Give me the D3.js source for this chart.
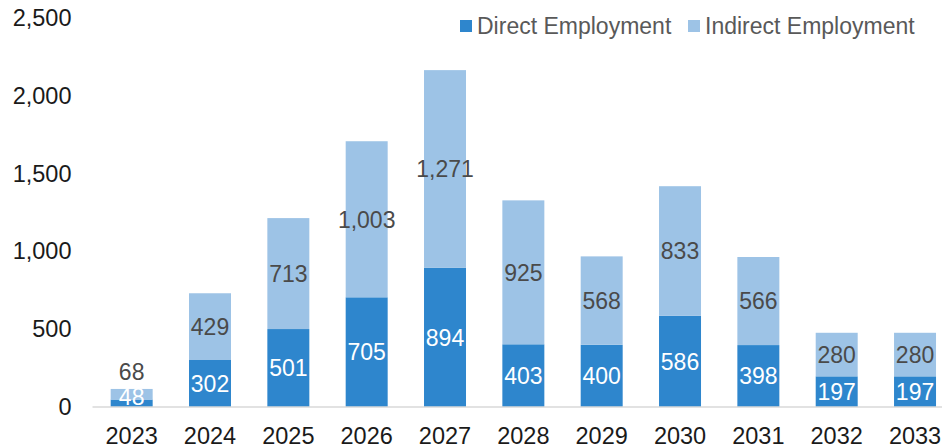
<!DOCTYPE html>
<html>
<head>
<meta charset="utf-8">
<script src="https://cdn.jsdelivr.net/npm/d3@7"></script>
<style>
  html, body { margin: 0; padding: 0; background: #fff; }
  svg { display: block; font-family: "Liberation Sans", Arial, sans-serif; }
</style>
</head>
<body>
<svg id="chart" width="942" height="446"></svg>
<script>
// Employment by year, split into direct and indirect jobs
const years = ["2023", "2024", "2025", "2026", "2027", "2028", "2029", "2030", "2031", "2032", "2033"];
const directJobs = [48, 302, 501, 705, 894, 403, 400, 586, 398, 197, 197];
const indirectJobs = [68, 429, 713, 1003, 1271, 925, 568, 833, 566, 280, 280];
const yTicks = [0, 500, 1000, 1500, 2000, 2500];
const seriesNames = ["Direct Employment", "Indirect Employment"];
const seriesColors = ["#2e86cd", "#9dc3e6"];

const W = 942, H = 446;
const svg = d3.select("#chart");

const x = d3.scaleBand().domain(years).range([92.5, 954.2]).paddingInner(0.464).paddingOuter(0.232);
const y = d3.scaleLinear().domain([0, 2500]).range([407, 18]);

const rows = years.map((yr, i) => ({ year: yr, direct: directJobs[i], indirect: indirectJobs[i] }));
const stacked = d3.stack().keys(["direct", "indirect"])(rows);

// y axis labels (no line, no ticks)
const yAxis = svg.append("g")
  .attr("transform", "translate(71.5,0)")
  .call(d3.axisLeft(y).tickValues(yTicks).tickSize(0).tickPadding(0).tickFormat(d3.format(",")));
yAxis.select(".domain").remove();
yAxis.selectAll("text").attr("fill", "#1a1a1a").style("font-size", "23.5px").attr("font-family", null);

// bars
svg.append("g").selectAll("g").data(stacked).join("g")
  .attr("fill", (d, i) => seriesColors[i])
  .selectAll("rect").data(d => d).join("rect")
  .attr("x", d => x(d.data.year))
  .attr("width", x.bandwidth())
  .attr("y", d => y(d[1]))
  .attr("height", d => y(d[0]) - y(d[1]));

// baseline
svg.append("line")
  .attr("x1", 92.5).attr("x2", W).attr("y1", y(0)).attr("y2", y(0))
  .attr("stroke", "#d9d9d9").attr("stroke-width", 1.3);

// x axis labels
const xAxis = svg.append("g")
  .attr("transform", `translate(0,${y(0)})`)
  .call(d3.axisBottom(x).tickSize(0).tickPadding(20));
xAxis.select(".domain").remove();
xAxis.selectAll("text").attr("fill", "#1a1a1a").style("font-size", "23.5px").attr("font-family", null);

// value labels
const labelG = svg.append("g").style("font-size", "23px").attr("text-anchor", "middle");
const fmt = d3.format(",");
stacked.forEach((layer, li) => {
  labelG.selectAll(null).data(layer).join("text")
    .attr("x", d => x(d.data.year) + x.bandwidth() / 2)
    .attr("y", d => {
      const top = y(d[1]), bot = y(d[0]);
      const h = bot - top;
      if (li === 1 && h < 20) return top - 17;
      return Math.min((top + bot) / 2, y(0) - 10);
    })
    .attr("dy", "0.36em")
    .attr("fill", li === 0 ? "#ffffff" : "#4a4a4a")
    .text(d => fmt(d[1] - d[0]));
});

// legend
const legend = svg.append("g").style("font-size", "23px");
const legendX = [460, 688];
seriesNames.forEach((name, i) => {
  const g = legend.append("g").attr("transform", `translate(${legendX[i]},20)`);
  g.append("rect").attr("width", 12).attr("height", 12).attr("fill", seriesColors[i]);
  g.append("text").attr("x", 17).attr("y", 6).attr("dy", "0.36em").attr("fill", "#595959").text(name);
});
</script>
</body>
</html>
